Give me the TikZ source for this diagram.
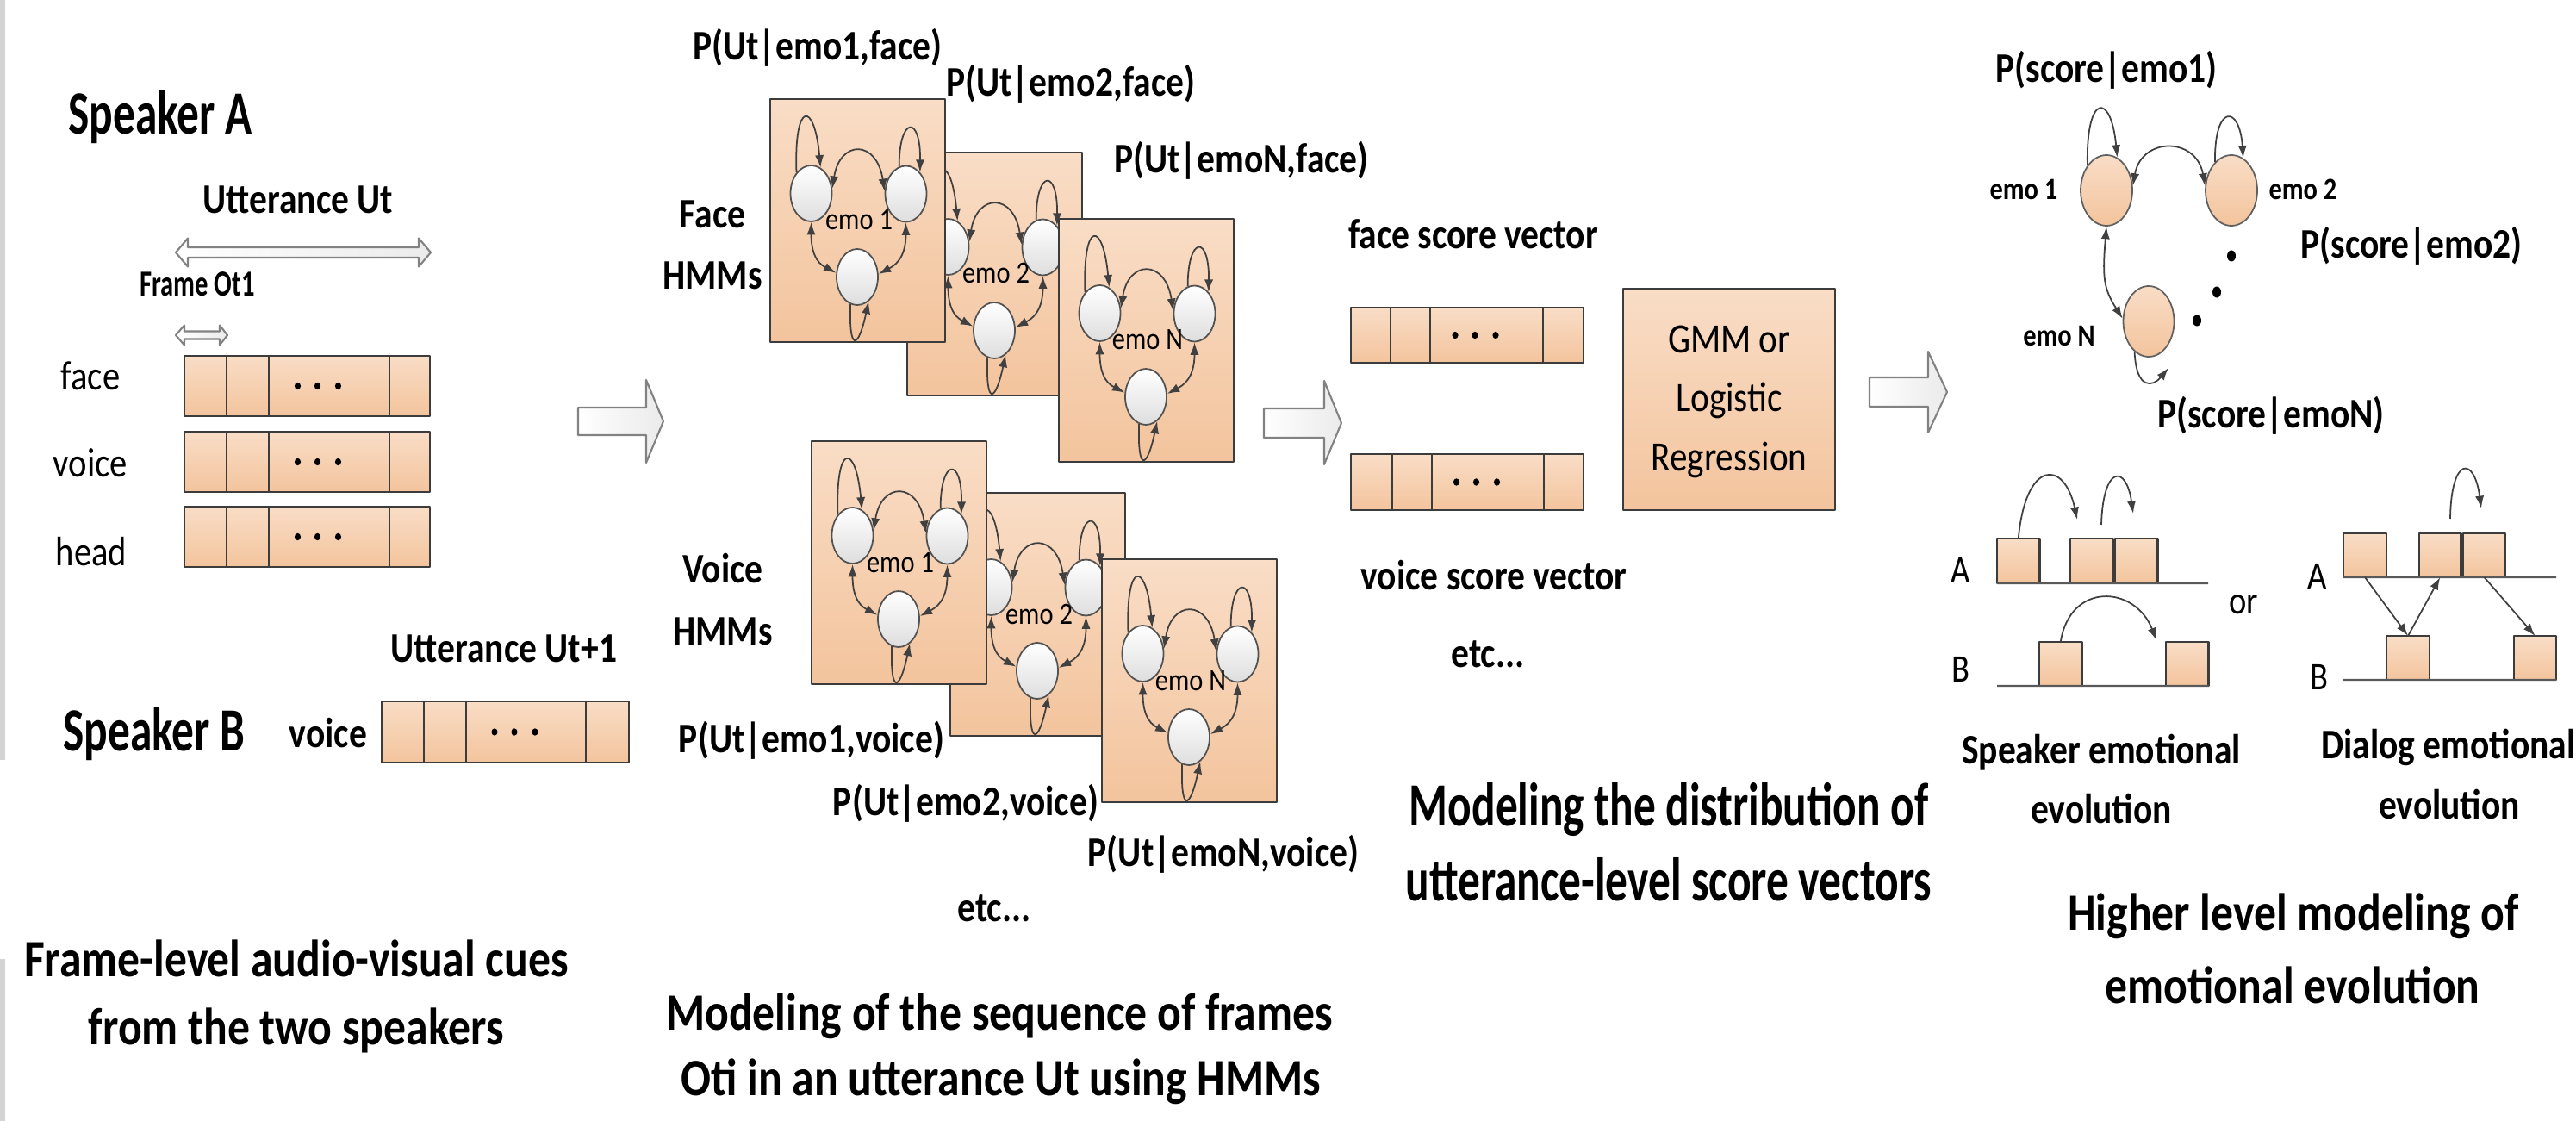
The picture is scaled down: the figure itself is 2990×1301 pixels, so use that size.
\documentclass[tikz,border=0pt]{standalone}
\usepackage{fontspec}
\setmainfont{Carlito}[FakeStretch=0.85]
\newfontfamily\narrowfont{Carlito}[FakeStretch=0.72]
\usetikzlibrary{shapes.geometric, arrows.meta}

\definecolor{peachT}{RGB}{249,221,198}
\definecolor{peachB}{RGB}{243,196,157}
\definecolor{edge}{RGB}{60,60,60}
\definecolor{wire}{RGB}{64,64,64}
\definecolor{hollow}{RGB}{130,130,130}
\definecolor{strip}{RGB}{212,212,212}

\tikzset{
  cell/.style={draw=edge, line width=0.65pt, top color=peachT, bottom color=peachB,
    inner sep=0pt, outer sep=0pt, anchor=north west},
  hmmbox/.style={cell, line width=0.55pt, minimum width=20.3mm, minimum height=28.2mm},
  state/.style={ellipse, draw=black!68, line width=0.5pt, top color=white, bottom color=black!13,
    minimum width=4.8mm, minimum height=6.5mm, inner sep=0pt},
  emostate/.style={ellipse, draw=black!62, line width=0.5pt, top color=peachT, bottom color=peachB,
    minimum width=6mm, minimum height=8.2mm, inner sep=0pt},
  link/.style={draw=wire, line width=0.5pt, -{Latex[length=4.1pt,width=2.9pt]}},
  dlink/.style={draw=wire, line width=0.5pt,
    {Latex[length=4.1pt,width=2.9pt]}-{Latex[length=4.1pt,width=2.9pt]}},
  axisline/.style={draw=black!65, line width=0.6pt},
  blockarr/.style={draw=hollow, line width=0.6pt, left color=white, right color=black!8},
  txt/.style={inner sep=0pt, anchor=base},
  tallttl/.style={txt, font=\narrowfont\fontsize{20.3pt}{24pt}\selectfont\bfseries},
  ttl/.style={txt, font=\fontsize{17.3pt}{20pt}\selectfont\bfseries},
  lab/.style={txt, font=\fontsize{13.9pt}{16pt}\selectfont\bfseries},
  labreg/.style={txt, font=\fontsize{13.6pt}{16pt}\selectfont},
  gmmtxt/.style={txt, font=\fontsize{13.8pt}{16pt}\selectfont},
  abtxt/.style={txt, font=\fontsize{12.9pt}{15pt}\selectfont},
  framelbl/.style={txt, font=\narrowfont\fontsize{12.1pt}{14pt}\selectfont\bfseries},
  emolbl/.style={txt, font=\fontsize{10.2pt}{12pt}\selectfont},
  emobold/.style={txt, font=\fontsize{10.2pt}{12pt}\selectfont\bfseries},
  % one emotion HMM: box, three states and their transitions
  hmm/.pic={
    \node[hmmbox] (-box) at (0,0) {};
    \node[state] (-c1) at (47.5,109.5) {};
    \node[state] (-c2) at (157.5,110) {};
    \node[state] (-c3) at (101,206.5) {};
    \draw[link] (-c1.125) .. controls +(-3,-85) and +(-7,-77) .. (-c1.70);
    \draw[link] (-c2.104) .. controls +(0,-59) and +(1,-67) .. (-c2.57);
    \draw[dlink] (-c1.13) .. controls +(9,-57) and +(-9,-60) .. (-c2.173);
    \draw[dlink] (-c1.270) .. controls +(0,43) and +(-17,-9) .. (-c3.169);
    \draw[dlink] (-c2.270) .. controls +(0,43) and +(17,-9) .. (-c3.8);
    \draw[link] (-c3.256) .. controls +(-2,56) and +(-12,56) .. (-c3.295);
    \node[emolbl] (-lab) at (103,152) {#1};
  }
}

% a strip of four feature cells with an ellipsis in the wide third cell
\newcommand\cellrow[8]{%
  \node[cell, minimum width=#4, minimum height=#8] (#1-1) at (#2,#3) {};
  \node[cell, minimum width=#5, minimum height=#8] (#1-2) at (#1-1.north east) {};
  \node[cell, minimum width=#6, minimum height=#8] (#1-3) at (#1-2.north east) {};
  \node[cell, minimum width=#7, minimum height=#8] (#1-4) at (#1-3.north east) {};
  \foreach \dotx in {-3.65mm,-1.35mm,1.05mm}
    \fill ([xshift=\dotx]#1-3.center) ellipse[x radius=0.36mm, y radius=0.42mm];
}

\begin{document}
\begin{tikzpicture}[x=0.1mm, y=-0.1mm, line join=round]
\useasboundingbox (0,0) rectangle (2990,1301);
\fill[white] (0,0) rectangle (2990,1301);
\fill[strip] (0,0) rectangle (6,882);
\fill[strip] (0,1113) rectangle (6,1301);

% ---------- frame-level cues ----------
\node[tallttl] (spkA) at (186,156) {Speaker A};
\node[lab] (uttA) at (346,248) {Utterance Ut};
\draw[blockarr] (204,293) -- (218,276.5) -- (218,287) -- (486,287) -- (486,276.5) -- (500,293)
  -- (486,309.5) -- (486,299) -- (218,299) -- (218,309.5) -- cycle;
\node[framelbl] (frm) at (229,344) {Frame Ot1};
\draw[blockarr] (204,389) -- (214,377.5) -- (214,384.5) -- (255,384.5) -- (255,377.5) -- (264,389)
  -- (255,400.5) -- (255,393.5) -- (214,393.5) -- (214,400.5) -- cycle;

\cellrow{fr}{214}{413}{4.9mm}{4.9mm}{14mm}{4.7mm}{7mm}
\cellrow{vr}{214}{501}{4.9mm}{4.9mm}{14mm}{4.7mm}{7mm}
\cellrow{hr}{214}{588}{4.9mm}{4.9mm}{14mm}{4.7mm}{7mm}
\node[labreg] (lface) at (105,452) {face};
\node[labreg] (lvoice) at (105,553) {voice};
\node[labreg] (lhead) at (106,656) {head};

\node[lab] (uttB) at (585,768) {Utterance Ut+1};
\node[tallttl] (spkB) at (179,871) {Speaker B};
\node[lab] (lvoiceB) at (381,867) {voice};
\cellrow{br}{443}{814}{4.9mm}{4.9mm}{13.9mm}{5mm}{7.1mm}

\node[ttl] (cap1a) at (344,1133) {Frame-level audio-visual cues};
\node[ttl] (cap1b) at (344,1212) {from the two speakers};

\draw[blockarr] (671,473) -- (750,473) -- (750,441) -- (770,489) -- (750,537) -- (750,505)
  -- (671,505) -- cycle;

% ---------- emotion HMMs ----------
\pic (fh2) at (1053,177) {hmm=emo 2};
\pic (fh1) at (894,115) {hmm=emo 1};
\pic (fh3) at (1229,254) {hmm=emo N};
\pic (vh2) at (1103,572) {hmm=emo 2};
\pic (vh1) at (942,512) {hmm=emo 1};
\pic (vh3) at (1279,649) {hmm=emo N};

\node[lab] (pf1) at (949,70) {P(Ut|emo1,face)};
\node[lab] (pf2) at (1243,112) {P(Ut|emo2,face)};
\node[lab] (pf3) at (1441,201) {P(Ut|emoN,face)};
\node[lab] (fhA) at (827,265) {Face};
\node[lab] (fhB) at (827,336) {HMMs};
\node[lab] (vhA) at (839,676) {Voice};
\node[lab] (vhB) at (839,748) {HMMs};
\node[lab] (pv1) at (942,873) {P(Ut|emo1,voice)};
\node[lab] (pv2) at (1121,946) {P(Ut|emo2,voice)};
\node[lab] (pv3) at (1420,1005) {P(Ut|emoN,voice)};
\node[lab] (etc1) at (1154,1069) {etc...};
\node[ttl] (cap2a) at (1160,1195) {Modeling of the sequence of frames};
\node[ttl] (cap2b) at (1162,1271) {Oti in an utterance Ut using HMMs};

\draw[blockarr] (1467,474) -- (1537,474) -- (1537,442) -- (1557,491) -- (1537,539) -- (1537,508)
  -- (1467,508) -- cycle;

% ---------- score vectors ----------
\node[lab] (fsv) at (1710,288) {face score vector};
\cellrow{fs}{1568}{357}{4.6mm}{4.6mm}{13.1mm}{4.7mm}{6.4mm}
\cellrow{vs}{1568}{527}{4.8mm}{4.6mm}{13mm}{4.6mm}{6.5mm}
\node[lab] (vsv) at (1734,684) {voice score vector};
\node[lab] (etc2) at (1727,774) {etc...};

\node[cell, minimum width=24.6mm, minimum height=25.7mm] (gmm) at (1884,335) {};
\node[gmmtxt] (gmmA) at (gmm.center |- 0,409) {GMM or};
\node[gmmtxt] (gmmB) at (gmm.center |- 0,477) {Logistic};
\node[gmmtxt] (gmmC) at (gmm.center |- 0,546) {Regression};

\node[tallttl] (cap3a) at (1937,958) {Modeling the distribution of};
\node[tallttl] (cap3b) at (1937,1045) {utterance-level score vectors};

\draw[blockarr] (2170,438) -- (2238,438) -- (2238,408) -- (2260,455) -- (2238,502) -- (2238,472)
  -- (2170,472) -- cycle;

% ---------- emotion transition model ----------
\node[emostate] (g1) at (2445,221) {};
\node[emostate] (g2) at (2590,221) {};
\node[emostate, minimum width=5.9mm] (gN) at (2494,373) {};
\draw[link] (g1.127) .. controls +(-2,-84) and +(-7,-76) .. (g1.72);
\draw[link] (g2.120) .. controls +(-1,-68) and +(-4,-62) .. (g2.70);
\draw[dlink] (g1.10) .. controls +(10,-57) and +(-10,-57) .. (g2.170);
\draw[dlink] (g1.270) .. controls +(-5,60) and +(-22,-35) .. (gN.174);
\coordinate (gNtip) at (2517,427);
\draw[link] (gN.245) .. controls +(2,45) and +(-18,22) .. (gNtip);
\fill (2590,297) ellipse[x radius=0.5mm, y radius=0.65mm];
\fill (2573,339) ellipse[x radius=0.5mm, y radius=0.65mm];
\fill (2550,372) ellipse[x radius=0.5mm, y radius=0.65mm];
\node[lab] (ps1) at (2445,96) {P(score|emo1)};
\node[emobold] (ge1) at (2349,232) {emo 1};
\node[emobold] (ge2) at (2673,232) {emo 2};
\node[lab] (ps2) at (2799,300) {P(score|emo2)};
\node[emobold] (geN) at (2390,402) {emo N};
\node[lab] (psN) at (2636,496) {P(score|emoN)};

% speaker emotional evolution
\coordinate (sAend) at (2563,677);
\coordinate (sBstart) at (2318,796);
\node[cell, minimum width=4.95mm, minimum height=5.2mm] (sA1) at (2318,625) {};
\node[cell, minimum width=4.95mm, minimum height=5.2mm] (sA2) at (2403,625) {};
\node[cell, minimum width=4.95mm, minimum height=5.2mm] (sA3) at (2455,625) {};
\node[cell, minimum width=4.95mm, minimum height=5.1mm] (sB1) at (2367,745) {};
\node[cell, minimum width=4.95mm, minimum height=5.1mm] (sB2) at (2514,745) {};
\draw[axisline] (sA1.south west) -- (sAend);
\draw[axisline] (sBstart) -- (sB2.south east);
\coordinate (sA2in) at (2411,603);
\coordinate (sA3out) at (2439,609);
\coordinate (sA3in) at (2476,596);
\coordinate (sB2in) at (2503,743);
\draw[link] (sA1.north) .. controls +(8.5,-92) and +(-15,-70) .. (sA2in);
\draw[link] (sA3out) .. controls +(2,-70) and +(-8,-57) .. (sA3in);
\draw[link] (sB1.north) .. controls +(11,-70) and +(-25,-64) .. (sB2in);
\node[abtxt] (sAl) at (2276,676) {A};
\node[abtxt] (sBl) at (2276,791) {B};
\node[abtxt] (orl) at (2604,712) {or};
\node[lab] (sev1) at (2439,886) {Speaker emotional};
\node[lab] (sev2) at (2439,955) {evolution};

% dialog emotional evolution
\coordinate (dAend) at (2967,670);
\coordinate (dBstart) at (2720,789);
\node[cell, minimum width=5mm, minimum height=5.1mm] (dA1) at (2720,619) {};
\node[cell, minimum width=4.85mm, minimum height=5.1mm] (dA2) at (2808,619) {};
\node[cell, minimum width=4.9mm, minimum height=5.1mm] (dA3) at (2859,619) {};
\node[cell, minimum width=5mm, minimum height=5.1mm] (dB1) at (2770,738) {};
\node[cell, minimum width=4.9mm, minimum height=5.1mm] (dB2) at (2918,738) {};
\draw[axisline] (dA1.south west) -- (dAend);
\draw[axisline] (dBstart) -- (dB2.south east);
\draw[link] (dA1.south) -- (dB1.north);
\draw[link] (dB1.north) -- (dA2.south);
\draw[link] (dA3.south) -- (dB2.north);
\coordinate (dA3out) at (2844,602);
\coordinate (dA3in) at (2880,590);
\draw[link] (dA3out) .. controls +(1,-73) and +(-8,-61) .. (dA3in);
\node[abtxt] (dAl) at (2690,683) {A};
\node[abtxt] (dBl) at (2692,800) {B};
\node[lab] (dev1) at (2842,880) {Dialog emotional};
\node[lab] (dev2) at (2843,950) {evolution};

\node[ttl] (cap4a) at (2662,1079) {Higher level modeling of};
\node[ttl] (cap4b) at (2661,1164) {emotional evolution};
\end{tikzpicture}
\end{document}
